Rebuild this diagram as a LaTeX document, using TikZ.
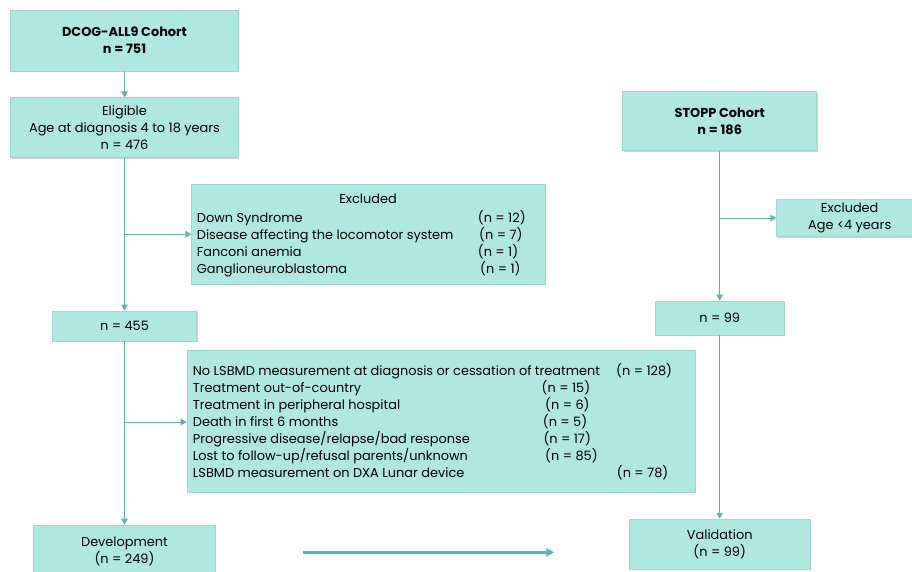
\documentclass[tikz,border=0pt]{standalone}
\usepackage{fontspec}
\setmainfont{Poppins}
\usetikzlibrary{arrows.meta,shadows}
\definecolor{boxfill}{HTML}{AFE7E1}
\definecolor{boxline}{HTML}{9FD6D0}
\definecolor{flow}{HTML}{5DB4AC}
\newcommand\txt{\fontsize{12.9}{17}\selectfont}

\begin{document}
\begin{tikzpicture}[x=1pt,y=-1pt,
  box/.style={draw=boxline, line width=0.6pt, fill=boxfill, inner sep=0pt,
    align=center, font=\txt,
    drop shadow={shadow xshift=1pt, shadow yshift=-1pt, opacity=0.3, fill=black!60}},
  flowline/.style={draw=flow, line width=1pt},
  arr/.style={flowline, -{Triangle[length=6pt,width=6.5pt]}},
  bigarr/.style={draw=flow, line width=2.6pt, -{Triangle[length=8pt,width=8pt]}},
  row/.style={anchor=base west, inner sep=0pt, font=\txt},
  head/.style={anchor=base, inner sep=0pt, font=\txt},
  ]
\useasboundingbox (0,0) rectangle (912,572);
\clip (0,0) rectangle (912,572);

% ---------- left column: development cohort ----------
\node[box, minimum width=227.6pt, minimum height=61pt] (dcog) at (124.5,40.5)
  {\textbf{DCOG-ALL9 Cohort}\\\textbf{n = 751}};
\node[box, minimum width=227.6pt, minimum height=60pt] (elig) at (124.5,127.7)
  {Eligible\\Age at diagnosis 4 to 18 years\\n = 476};
\node[box, minimum width=353.3pt, minimum height=100pt] (ex1) at (368.3,234) {};
\node[box, minimum width=144pt, minimum height=30pt] (n455) at (124.5,326) {n = 455};
\node[box, minimum width=508pt, minimum height=142pt] (ex2) at (441,421) {};
\node[box, minimum width=181.7pt, minimum height=52pt] (dev) at (124.5,551)
  {Development\\(n = 249)};

% exclusions after eligibility
\node[head] (ex1h) at (368,204) {Excluded};
\node[row] (e1a) at (196.7,222) {Down Syndrome};
\node[row] (e1b) at (196.7,239) {Disease affecting the locomotor system};
\node[row] (e1c) at (196.7,256) {Fanconi anemia};
\node[row] (e1d) at (196.7,273) {Ganglioneuroblastoma};
\node[row] (n1a) at (477.7,222) {(n = 12)};
\node[row] (n1b) at (479,239) {(n = 7)};
\node[row] (n1c) at (477.7,256) {(n = 1)};
\node[row] (n1d) at (480,273) {(n = 1)};

% exclusions before the development set
\node[row] (e2a) at (192.7,375) {No LSBMD measurement at diagnosis or cessation of treatment};
\node[row] (e2b) at (192.7,392) {Treatment out-of-country};
\node[row] (e2c) at (192.7,409) {Treatment in peripheral hospital};
\node[row] (e2d) at (192.7,426) {Death in first 6 months};
\node[row] (e2e) at (192.7,443) {Progressive disease/relapse/bad response};
\node[row] (e2f) at (192.7,460) {Lost to follow-up/refusal parents/unknown};
\node[row] (e2g) at (192.7,477) {LSBMD measurement on DXA Lunar device};
\node[row] (n2a) at (616,375) {(n = 128)};
\node[row] (n2b) at (541.5,392) {(n = 15)};
\node[row] (n2c) at (545,409) {(n = 6)};
\node[row] (n2d) at (542.7,426) {(n = 5)};
\node[row] (n2e) at (543.3,443) {(n = 17)};
\node[row] (n2f) at (545,460) {(n = 85)};
\node[row] (n2g) at (616.7,477) {(n = 78)};

% ---------- right column: validation cohort ----------
\node[box, minimum width=194pt, minimum height=59pt] (stopp) at (719.7,121.2)
  {\textbf{STOPP Cohort}\\\textbf{n = 186}};
\node[box, minimum width=146pt, minimum height=37.4pt] (ex3) at (849.7,218)
  {Excluded\\Age <4 years};
\node[box, minimum width=129.3pt, minimum height=34pt] (n99) at (719.7,318) {n = 99};
\node[box, minimum width=181.4pt, minimum height=50.3pt] (val) at (719.7,544.2)
  {Validation\\(n = 99)};

% ---------- connectors ----------
\draw[arr] (dcog.south) -- (dcog.south |- elig.north);
\draw[arr] (elig.south) -- (elig.south |- n455.north);
\coordinate (j1) at ([yshift=-76.3pt]elig.south);
\draw[arr] (j1) -- (j1 -| ex1.west);
\draw[arr] (n455.south) -- (n455.south |- dev.north);
\coordinate (j2) at ([yshift=-80.7pt]n455.south);
\draw[arr] (j2) -- (j2 -| ex2.west);

\draw[arr] (stopp.south) -- (stopp.south |- n99.north);
\coordinate (j3) at ([yshift=-67pt]stopp.south);
\draw[arr] (j3) -- (j3 -| ex3.west);
\draw[arr] (n99.south) -- (n99.south |- val.north);

% development model carried over to validation
\coordinate (gofrom) at (303.3,552.3);
\coordinate (goto) at (554.3,552.3);
\draw[bigarr] (gofrom) -- (goto);
\end{tikzpicture}
\end{document}
